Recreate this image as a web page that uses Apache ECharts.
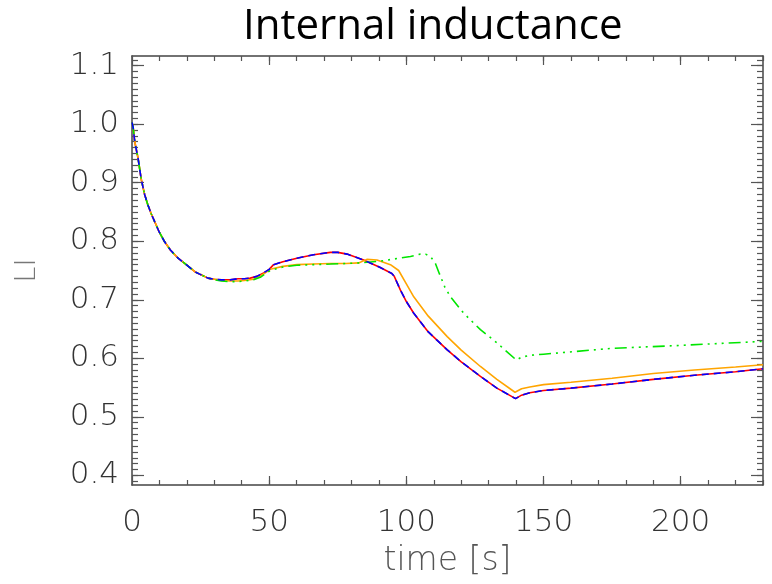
<!DOCTYPE html>
<html>
<head>
<meta charset="utf-8">
<script src="https://cdn.jsdelivr.net/npm/echarts@6/dist/echarts.min.js"></script>
<style>html,body{margin:0;padding:0;background:#fff}#c{width:772px;height:584px}</style>
</head>
<body>
<div id="c"></div>
<script>
// ---- data ----
const tMain = [0, 0.4, 1, 2.2, 3.4, 4.6, 5.8, 7, 8.3, 10, 11.9, 14, 16.8, 20, 22.9, 25, 27.7, 30, 32.6, 35.8, 38.7, 41, 43.1, 45.5, 48, 50, 51.6, 55, 60.1, 66.2, 72.3, 75, 78.4, 84.4, 90.5, 94.7, 95.6, 97.8, 100, 102.7, 108, 114.9, 120, 127, 133, 139.8, 142, 145, 150, 160, 175, 190, 205, 220, 230];
const liMain = [1.003, 0.995, 0.970, 0.942, 0.905, 0.880, 0.862, 0.847, 0.833, 0.815, 0.799, 0.785, 0.771, 0.759, 0.748, 0.743, 0.737, 0.735, 0.734, 0.734, 0.736, 0.736, 0.737, 0.740, 0.746, 0.752, 0.760, 0.765, 0.771, 0.777, 0.781, 0.781, 0.778, 0.768, 0.755, 0.745, 0.740, 0.717, 0.697, 0.677, 0.645, 0.6145, 0.594, 0.569, 0.549, 0.531, 0.537, 0.541, 0.545, 0.549, 0.556, 0.564, 0.571, 0.577, 0.582];

const tOrange = [0, 0.4, 1, 2.2, 3.4, 4.6, 5.8, 7, 8.3, 10, 11.9, 14, 16.8, 20, 22.9, 25, 27.7, 30, 32.6, 35.8, 38.7, 41, 44.3, 47, 50.4, 55, 60.1, 66, 72.3, 78, 82.6, 85.6, 89.3, 94.2, 97.2, 100, 102.7, 108, 114.9, 120, 127, 133, 139.6, 142, 145, 150, 160, 175, 190, 205, 220, 230];
const liOrange = [1.003, 0.995, 0.970, 0.942, 0.905, 0.880, 0.862, 0.847, 0.833, 0.815, 0.799, 0.785, 0.771, 0.759, 0.748, 0.743, 0.737, 0.735, 0.733, 0.732, 0.732, 0.733, 0.735, 0.741, 0.752, 0.757, 0.760, 0.761, 0.762, 0.762, 0.763, 0.769, 0.768, 0.760, 0.750, 0.727, 0.705, 0.672, 0.637, 0.614, 0.586, 0.564, 0.542, 0.548, 0.551, 0.555, 0.559, 0.566, 0.574, 0.580, 0.585, 0.589];

const tGreen = [0, 0.4, 1, 2.2, 3.4, 4.6, 5.8, 7, 8.3, 10, 11.9, 14, 16.8, 20, 22.9, 25, 27.7, 30, 32.6, 35.8, 38.7, 41, 44.3, 47, 50.4, 55, 60.1, 66, 72.3, 78, 82.6, 90.5, 101.5, 105.1, 107, 108.8, 110.6, 112, 114, 116.1, 120.9, 127, 133.1, 140.1, 142, 145, 150, 175, 200, 230];
const liGreen = [1.003, 0.995, 0.970, 0.942, 0.905, 0.880, 0.862, 0.847, 0.833, 0.815, 0.799, 0.785, 0.771, 0.759, 0.748, 0.743, 0.737, 0.734, 0.732, 0.731, 0.731, 0.732, 0.734, 0.739, 0.750, 0.756, 0.759, 0.760, 0.761, 0.762, 0.763, 0.766, 0.774, 0.778, 0.778, 0.774, 0.762, 0.745, 0.722, 0.705, 0.677, 0.649, 0.626, 0.597, 0.602, 0.605, 0.607, 0.617, 0.622, 0.629];

const xTickLabels = [0, 50, 100, 150, 200];
const yTickLabels = [0.4, 0.5, 0.6, 0.7, 0.8, 0.9, 1.0, 1.1];
const xMin = 0, xMax = 230;
const yMin = 0.3835, yMax = 1.1165;

// minor tick positions (every 10 s, every 0.01)
const xMinor = [];
for (let i = 1; i <= 23; i++) xMinor.push(i * 10);
const yMinor = [];
for (let i = 39; i <= 111; i++) yMinor.push(i / 100);

const zip = (a, b) => a.map((v, i) => [v, b[i]]);

const axisCol = '#444';
const labelFont = 'DejaVu Sans';

function xAx(pos, minor) {
  return {
    type: 'value', gridIndex: 0, position: pos, min: xMin, max: xMax,
    axisLine: { show: !minor, onZero: false, lineStyle: { color: axisCol, width: 1.5 } },
    axisTick: { show: true, inside: true, length: minor ? 5 : 9, customValues: minor ? xMinor : xTickLabels, lineStyle: { color: '#555', width: 1.2 } },
    axisLabel: (pos === 'bottom' && !minor) ? { show: true, customValues: xTickLabels, fontSize: 31, fontFamily: labelFont, fontWeight: 200, color: '#333', margin: 22 } : { show: false },
    splitLine: { show: false },
    name: (pos === 'bottom' && !minor) ? 'time [s]' : '',
    nameLocation: 'middle', nameGap: 60,
    nameTextStyle: { fontSize: 33, fontFamily: labelFont, fontWeight: 200, color: '#555' }
  };
}
function yAx(pos, minor) {
  return {
    type: 'value', gridIndex: 0, position: pos, min: yMin, max: yMax,
    axisLine: { show: !minor, onZero: false, lineStyle: { color: axisCol, width: 1.5 } },
    axisTick: { show: true, inside: true, length: minor ? 6 : 12, customValues: minor ? yMinor : yTickLabels, lineStyle: { color: '#555', width: 1.2 } },
    axisLabel: (pos === 'left' && !minor) ? { show: true, customValues: yTickLabels, formatter: v => v.toFixed(1), fontSize: 31, fontFamily: labelFont, fontWeight: 200, color: '#333', margin: 13 } : { show: false },
    splitLine: { show: false },
    name: (pos === 'left' && !minor) ? 'LI' : '',
    nameLocation: 'middle', nameGap: 90, nameRotate: 90,
    nameTextStyle: { fontSize: 29, fontFamily: labelFont, fontWeight: 200, color: '#777' }
  };
}

const chart = echarts.init(document.getElementById('c'), null, { renderer: 'canvas' });
chart.setOption({
  animation: false,
  backgroundColor: '#fff',
  title: {
    text: 'Internal inductance', left: 238, top: 1,
    textStyle: { fontSize: 42, fontFamily: 'Open Sans', fontWeight: 'normal', color: '#000' }
  },
  grid: { left: 132, right: 9, top: 56, bottom: 99, containLabel: false },
  xAxis: [xAx('bottom', false), xAx('bottom', true), xAx('top', false), xAx('top', true)],
  yAxis: [yAx('left', false), yAx('left', true), yAx('right', false), yAx('right', true)],
  series: [
    { name: 'red', type: 'line', data: zip(tMain, liMain), showSymbol: false, lineStyle: { color: '#ff0000', width: 1.6 }, z: 2 },
    { name: 'orange', type: 'line', data: zip(tOrange, liOrange), showSymbol: false, lineStyle: { color: '#ffa500', width: 1.6 }, z: 3 },
    { name: 'green', type: 'line', data: zip(tGreen, liGreen), showSymbol: false, lineStyle: { color: '#00e600', width: 1.6, type: [12, 5, 2, 5, 2, 5, 2, 5] }, z: 4 },
    { name: 'blue', type: 'line', data: zip(tMain, liMain), showSymbol: false, lineStyle: { color: '#0000ff', width: 1.6, type: [7, 5] }, z: 5 }
  ]
});
</script>
</body>
</html>
